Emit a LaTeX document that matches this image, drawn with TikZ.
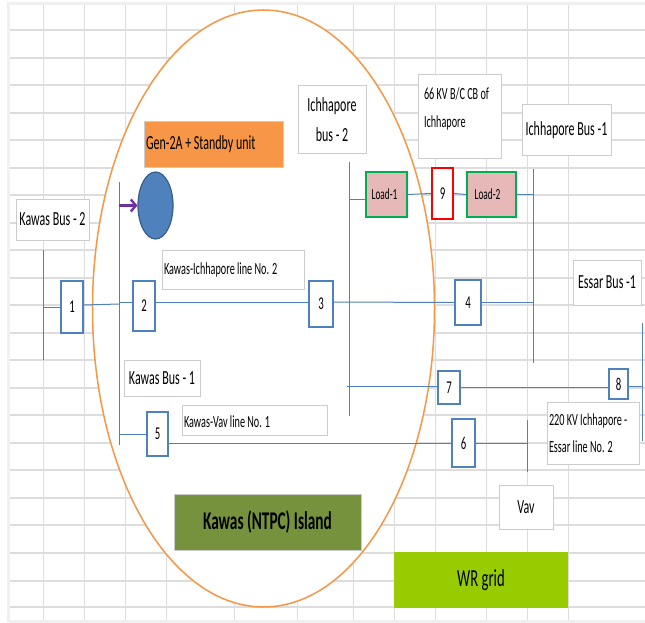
\documentclass[tikz,border=0pt]{standalone}
\usepackage{fontspec}
\setmainfont[FakeStretch=0.6]{Carlito}
\usetikzlibrary{
  arrows.meta,
  shapes.geometric,
  positioning
}
\definecolor{gridgray}{HTML}{DDDDDD}
\definecolor{edgegray}{HTML}{F0F0F0}
\definecolor{boxgray}{HTML}{CCCCCC}
\definecolor{linkblue}{HTML}{4F81BD}
\definecolor{genblue}{HTML}{4F81BD}
\definecolor{genedge}{HTML}{385D8A}
\definecolor{islandorange}{HTML}{F79646}
\definecolor{loadpink}{HTML}{E6B8B7}
\definecolor{loadgreen}{HTML}{00B050}
\definecolor{islandgreen}{HTML}{76923C}
\definecolor{gridgreen}{HTML}{99CC00}
\definecolor{arrowpurple}{HTML}{7030A0}
\tikzset{
  labelbox/.style={
    rectangle, draw=boxgray, fill=white, line width=1pt,
    align=center, inner sep=0pt,
    font=\fontsize{20}{26}\selectfont
  },
  smalllabel/.style={
    labelbox, align=flush left, inner xsep=2pt, font=\fontsize{17}{27.5}\selectfont
  },
  cbbox/.style={
    rectangle, draw=linkblue, fill=white, line width=1.8pt,
    align=center, inner sep=0pt,
    font=\fontsize{18}{20}\selectfont
  },
  loadbox/.style={
    rectangle, draw=loadgreen, fill=loadpink, line width=1.6pt,
    align=center, inner sep=0pt,
    font=\fontsize{15.5}{18}\selectfont
  },
  busline/.style={draw=linkblue, line width=1pt},
  linkline/.style={draw=linkblue, line width=1pt},
  gridline/.style={draw=gridgray}
}

\begin{document}
\begin{tikzpicture}[x=1pt, y=-1pt]

\useasboundingbox (0,0) rectangle (645,623);

% Sheet grid
\draw[edgegray, line width=3pt] (8.5,621.5) -- (8.5,3.5) -- (645,3.5);
\draw[edgegray, line width=3pt] (8.5,621.5) -- (645,621.5);
\foreach \gy in {30,58,85,113,140,168,195,223,250,278,305,333,360,388,415,443,470,498,525,553,581,607}
  \draw[gridline, line width=1.6pt] (10,\gy) -- (645,\gy);
\foreach \gx in {43,84,125,166,234,297,353,394,435,486,527,568}
  \draw[gridline, line width=0.8pt] (\gx,5) -- (\gx,620);

% Island
\node[ellipse, draw=islandorange, fill=white, line width=1.5pt, inner sep=0pt,
      minimum width=342pt, minimum height=597pt] (island) at (263.5,308.5) {};

% Bus ends
\coordinate (kb2top) at (43.5,250);
\coordinate (kb2bot) at (43.5,360);
\coordinate (kb1top) at (119,182);
\coordinate (kb1bot) at (119,445);
\coordinate (ib2top) at (349,162);
\coordinate (ib2bot) at (349,416);
\coordinate (ib1top) at (533,169);
\coordinate (ib1bot) at (533,363);
\coordinate (ebtop) at (642.5,323);
\coordinate (ebbot) at (642.5,441);
\coordinate (vbtop) at (527,420);
\coordinate (vbbot) at (527,472);

% Labels
\node[labelbox, minimum width=73pt, minimum height=41pt] (kb2label) at (52.5,219.5) {Kawas Bus - 2};
\node[labelbox, minimum width=76pt, minimum height=36pt] (kb1label) at (162,378) {Kawas Bus - 1};
\node[labelbox, minimum width=68pt, minimum height=67pt, font=\fontsize{20}{30}\selectfont] (ib2label) at (332,119.5) {Ichhapore\\bus - 2};
\node[labelbox, minimum width=89pt, minimum height=50pt] (ib1label) at (566.5,130) {Ichhapore Bus -1};
\node[labelbox, minimum width=68pt, minimum height=45pt] (eblabel) at (607,282.5) {Essar Bus -1};
\node[labelbox, minimum width=54pt, minimum height=44pt] (vavlabel) at (526,507) {Vav};
\node[smalllabel, inner xsep=6pt, text width=71pt, minimum height=83pt] (cblabel) at (459.5,116.5)
  {66 KV B/C CB of\\Ichhapore\\[-10pt]\mbox{}};
\node[smalllabel, text width=88pt, minimum height=62pt] (esslabel) at (593,433)
  {220 KV Ichhapore -\\Essar line No. 2};
\node[smalllabel, text width=138pt, minimum height=39pt] (kilabel) at (233,269.5)
  {Kawas-Ichhapore line No. 2};
\node[smalllabel, text width=141pt, minimum height=30pt, text height=16pt] (kvlabel) at (254.5,420)
  {Kawas-Vav line No. 1};

% Coloured banners
\node[labelbox, fill=islandorange, align=flush left, inner xsep=2pt, text width=135pt, minimum height=45pt] (genlabel) at (213.5,144.5)
  {Gen-2A + Standby unit};
\node[labelbox, fill=islandgreen, minimum width=187pt, minimum height=56pt,
      font=\bfseries\fontsize{25.5}{30}\selectfont] (islandlabel) at (267.5,522) {Kawas (NTPC) Island};
\node[rectangle, fill=gridgreen, minimum width=174pt, minimum height=56pt, inner sep=0pt,
      font=\fontsize{24.5}{28}\selectfont] (wrgrid) at (481,580) {WR grid};

% Generator
\node[ellipse, draw=genedge, fill=genblue, line width=1.2pt, inner sep=0pt,
      minimum width=35pt, minimum height=67pt] (gen) at (155.5,205.5) {};

% Breakers
\node[cbbox, minimum width=22pt, minimum height=52pt] (cb1) at (72,307) {1};
\node[cbbox, minimum width=22pt, minimum height=50pt] (cb2) at (144,306) {2};
\node[cbbox, minimum width=24pt, minimum height=46pt] (cb3) at (321,304) {3};
\node[cbbox, minimum width=26pt, minimum height=45pt] (cb4) at (468,302.5) {4};
\node[cbbox, minimum width=21pt, minimum height=44pt] (cb5) at (157.5,434) {5};
\node[cbbox, minimum width=23pt, minimum height=48pt] (cb6) at (463.5,443) {6};
\node[cbbox, minimum width=22pt, minimum height=33pt] (cb7) at (449,387.5) {7};
\node[cbbox, minimum width=19pt, minimum height=30pt] (cb8) at (618.5,384) {8};
\node[cbbox, draw=red, minimum width=21pt, minimum height=51pt] (cb9) at (442.5,193.5) {9};

% Loads
\node[loadbox, minimum width=41pt, minimum height=45pt] (load1) at (386.5,194.5) {Load-1\hspace{4pt}};
\node[loadbox, minimum width=49pt, minimum height=45pt] (load2) at (491.5,194.5) {Load-2\hspace{8pt}};

% Buses
\draw[busline] (kb2top) -- (kb2bot);
\draw[busline] (kb1top) -- (kb1bot);
\draw[busline] (ib2top) -- (ib2bot);
\draw[busline] (ib1top) -- (ib1bot);
\draw[busline] (ebtop) -- (ebbot);
\draw[busline] (vbtop) -- (vbbot);

% Lines
\draw[linkline] (kb2top |- cb1.west) -- (cb1.west);
\draw[linkline] ([yshift=2pt]cb1.east) -- ([yshift=3pt]kb1top |- cb1.east);
\draw[linkline] ([yshift=4pt]kb1top |- cb2.west) -- ([yshift=4pt]cb2.west);
\draw[linkline] ([yshift=4pt]cb2.east) -- ([yshift=2pt]cb3.west);
\draw[linkline] ([yshift=2pt]cb3.east) -- (cb4.west);
\draw[linkline] (cb4.east) -- (ib1top |- cb4.east);
\draw[linkline] ([xshift=-2pt,yshift=1.5pt]ib2top |- cb7.west) -- ([yshift=1.5pt]cb7.west);
\draw[linkline] (cb7.east) -- (cb8.west |- cb7.east);
\draw[linkline] ([yshift=-2pt]cb8.east) -- ([yshift=-2pt]ebtop |- cb8.east);
\draw[linkline] (kb1top |- cb5.west) -- (cb5.west);
\draw[linkline] ([yshift=-9pt]cb5.east) -- (cb6.west);
\draw[linkline] (cb6.east) -- (vbtop |- cb6.east);
\draw[linkline] (ib2top |- 0,199) -- (load1.west |- 0,199);
\draw[linkline] (load1.east) -- (cb9.west);
\draw[linkline] (cb9.east) -- (load2.west);
\draw[linkline] (load2.east) -- (ib1top |- load2.east);

% Generator feed
\draw[-{Straight Barb[length=5pt,width=12pt]}, arrowpurple, line width=2.4pt] (kb1top |- gen.west) -- (gen.west);

\end{tikzpicture}
\end{document}
